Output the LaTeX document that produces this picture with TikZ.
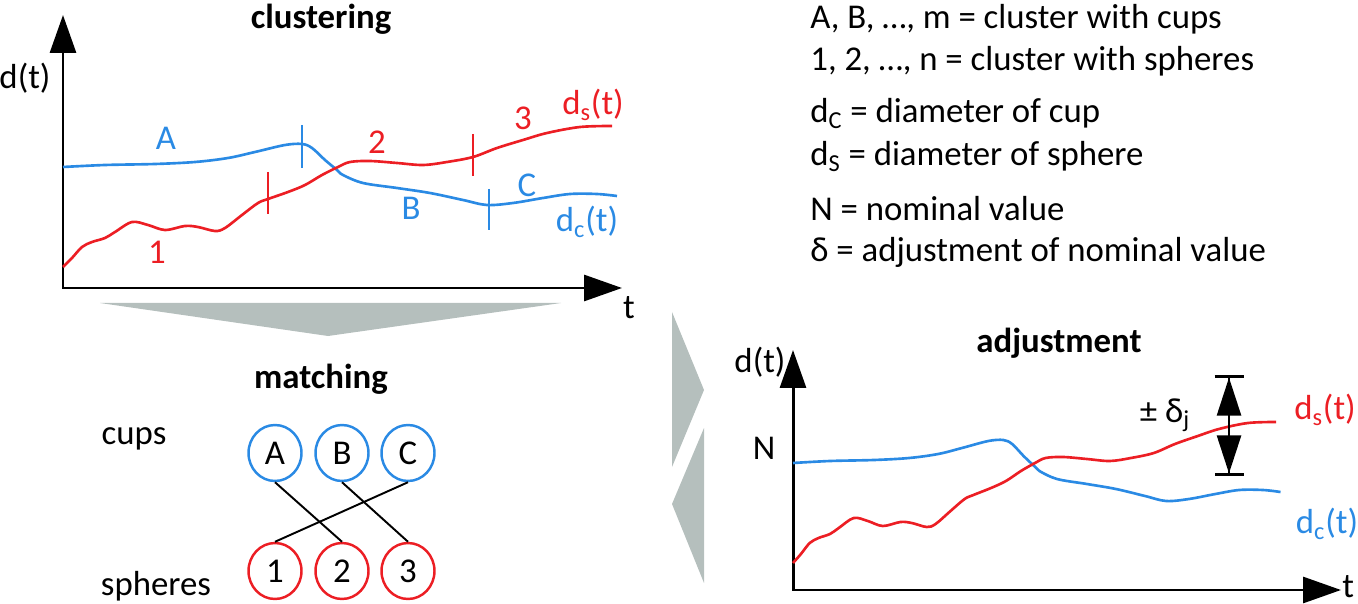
\documentclass[tikz,border=0pt]{standalone}
\usepackage{fontspec}
\setmainfont{Carlito}
\usepackage{tikz}
\usetikzlibrary{arrows.meta,positioning,shapes.geometric}
\definecolor{cupblue}{RGB}{42,138,228}
\definecolor{sphred}{RGB}{236,30,36}
\definecolor{flowgray}{RGB}{181,191,189}
\newcommand{\figfont}{\fontsize{19.8}{23.8}\selectfont}
% curves relative to the axis origin (px units, y downwards)
\newcommand{\sphcurve}{plot[smooth,tension=0.55] coordinates {(0,-21) (9,-30) (19,-41) (29,-46)
  (42,-50) (52,-56) (69,-66) (85,-63) (102,-58) (122,-62) (135,-61) (152,-57) (162,-60)
  (179,-73) (195,-85) (205,-89) (225,-96) (242,-103) (259,-113) (275,-121) (287,-126)
  (307,-127) (334,-125) (360,-123) (384,-126) (410,-131) (434,-140) (460,-148) (484,-155)
  (517,-161) (549,-162)}}
\newcommand{\cupcurve}{plot[smooth,tension=0.55] coordinates {(0,-121) (42,-123) (92,-124)
  (132,-126) (165,-130) (192,-136) (222,-143) (239,-144) (249,-140) (262,-128) (274,-118)
  (280,-113) (300,-105) (334,-100) (367,-95) (400,-88) (424,-83) (450,-85) (480,-90)
  (507,-94) (534,-94) (554,-92)}}
\tikzset{
  axes/.style  ={line width=1.7pt,
                 {Triangle[length=0.76cm,width=0.52cm]}-{Triangle[length=0.76cm,width=0.52cm]}},
  curve/.style ={line width=1.5pt},
  txt/.style   ={inner sep=0pt},
  ttl/.style   ={inner sep=0pt, font=\figfont\bfseries},
  leg/.style   ={inner sep=0pt, anchor=base west},
  cup/.style   ={ellipse, draw=cupblue, line width=1.4pt, inner sep=0pt,
                 minimum width=1.06cm, minimum height=1.12cm},
  sph/.style   ={ellipse, draw=sphred, line width=1.4pt, inner sep=0pt,
                 minimum width=1.06cm, minimum height=1.12cm},
  match/.style ={line width=1.1pt},
  tol/.style   ={line width=1.5pt,
                 {Bar[width=0.58cm]Triangle[length=0.76cm,width=0.48cm]}-{Triangle[length=0.76cm,width=0.48cm]Bar[width=0.58cm]}},
}
\begin{document}
\begin{tikzpicture}[x=0.02cm,y=-0.02cm,font=\figfont]
\useasboundingbox (0,0) rectangle (1358,604);

% ---- clustering (top left) ------------------------------------------
\coordinate (o1) at (63,288);
\coordinate (y1) at (63,15);
\coordinate (x1) at (622,288);
\draw[axes] (y1) |- (x1);
\node[ttl,anchor=base] (tclu) at (321,29) {clustering};
\node[txt] (dt1) at (25,78) {d(t)};
\node[txt] (t1)  at (629,308) {t};
\begin{scope}[shift={(o1)}]
  \draw[curve,cupblue] \cupcurve;
  \draw[curve,sphred]  \sphcurve;
  \draw[curve,cupblue] (239,-163) -- (239,-120) (426,-99) -- (426,-58);
  \draw[curve,sphred]  (205,-116) -- (205,-74) (410,-154) -- (410,-112);
\end{scope}
\node[txt,cupblue] (lA) at (166,138) {A};
\node[txt,cupblue] (lB) at (411,208) {B};
\node[txt,cupblue] (lC) at (527,185) {C};
\node[txt,sphred]  (l1) at (157,252) {1};
\node[txt,sphred]  (l2) at (377,142) {2};
\node[txt,sphred]  (l3) at (523,118) {3};
\node[txt,sphred]  (ds1) at (593,105) {d\textsubscript{s}(t)};
\node[txt,cupblue] (dc1) at (587,222) {d\textsubscript{c}(t)};

% ---- flow marks -----------------------------------------------------
\fill[flowgray] (100,303) -- (561,303) -- (328,336) -- cycle;
\fill[flowgray] (672,312) -- (704,390) -- (672,467) -- cycle;
\fill[flowgray] (704,428) -- (672,504) -- (704,583) -- cycle;

% ---- matching (bottom left) -----------------------------------------
\node[ttl,anchor=base] (tmat) at (321,388) {matching};
\node[txt,anchor=base] (cups) at (134,444) {cups};
\node[txt,anchor=base] (sphs) at (156,595) {spheres};
\node[cup] (cA) at (275,453) {A};
\node[cup] (cB) at (342,453) {B};
\node[cup] (cC) at (408,453) {C};
\node[sph] (s1) at (275,571) {1};
\node[sph] (s2) at (342,571) {2};
\node[sph] (s3) at (408,571) {3};
\draw[match] (cA.south) -- (s2.north);
\draw[match] (cB.south) -- (s3.north);
\draw[match] (cC.south) -- (s1.north);

% ---- legend (top right) ---------------------------------------------
\node[leg] (g1) at (810,29)  {A, B, …, m = cluster with cups};
\node[leg] (g2) at (810,71)  {1, 2, …, n = cluster with spheres};
\node[leg] (g3) at (810,123) {d\textsubscript{C} = diameter of cup};
\node[leg] (g4) at (810,166) {d\textsubscript{S} = diameter of sphere};
\node[leg] (g5) at (810,221) {N = nominal value};
\node[leg] (g6) at (810,262) {δ = adjustment of nominal value};

% ---- adjustment (bottom right) --------------------------------------
\coordinate (o2) at (793,590);
\coordinate (y2) at (793,350);
\coordinate (x2) at (1341,590);
\draw[axes] (y2) |- (x2);
\node[ttl,anchor=base] (tadj) at (1059,353) {adjustment};
\node[txt] (dt2) at (760,362) {d(t)};
\node[txt,anchor=west] (t2) at (1342,587) {t};
\node[txt] (nom) at (764,448) {N};
\begin{scope}[shift={(793,584)},xscale=0.88]
  \draw[curve,cupblue] \cupcurve;
  \draw[curve,sphred]  \sphcurve;
\end{scope}
\coordinate (dlo) at (1229,476);
\coordinate (dhi) at (1229,375);
\draw[tol] (dlo) -- (dhi);
\node[txt] (del) at (1165,415) {± δ\textsubscript{j}};
\node[txt,sphred]  (ds2) at (1325,410) {d\textsubscript{s}(t)};
\node[txt,cupblue] (dc2) at (1327,524) {d\textsubscript{c}(t)};
\end{tikzpicture}
\end{document}
